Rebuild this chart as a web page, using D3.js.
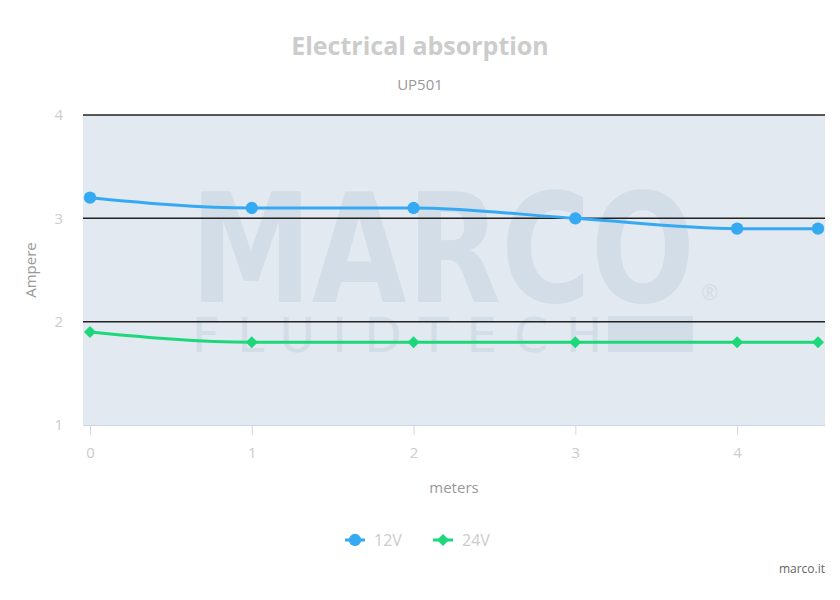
<!DOCTYPE html>
<html>
<head>
<meta charset="utf-8">
<script src="https://cdn.jsdelivr.net/npm/d3@7"></script>
<style>
  body { margin: 0; background: #fff; }
  svg { font-family: "Open Sans", "Noto Sans", sans-serif; }
</style>
</head>
<body>
<div id="chart"></div>
<script>
// chart data
let meters = [0, 1, 2, 3, 4, 4.5];
let amp12 = [3.2, 3.1, 3.1, 3.0, 2.9, 2.9];
let amp24 = [1.9, 1.8, 1.8, 1.8, 1.8, 1.8];
let xTicks = [0, 1, 2, 3, 4];
let yTicks = [1, 2, 3, 4];
let seriesNames = ["12V", "24V"];

let svgWidth = 840;
let svgHeight = 600;
let plot = { left: 83, right: 825, top: 115, bottom: 425 };

let svg = d3.select("#chart")
  .append("svg")
  .attr("width", svgWidth)
  .attr("height", svgHeight);

let x = d3.scaleLinear().domain([0, 4.5]).range([90, 818]);
let y = d3.scaleLinear().domain([1, 4]).range([plot.bottom, plot.top]);

// titles
svg.append("text")
  .attr("x", 420).attr("y", 55)
  .attr("text-anchor", "middle")
  .attr("font-size", 25).attr("font-weight", "bold")
  .attr("fill", "#cccccc")
  .text("Electrical absorption");

svg.append("text")
  .attr("x", 420).attr("y", 90)
  .attr("text-anchor", "middle")
  .attr("font-size", 15)
  .attr("fill", "#999999")
  .text("UP501");

// plot background
svg.append("rect")
  .attr("x", plot.left).attr("y", plot.top)
  .attr("width", plot.right - plot.left)
  .attr("height", plot.bottom - plot.top)
  .attr("fill", "#e3e9f0");

// watermark
let wm = svg.append("g").attr("fill", "#d3dde7");
wm.append("rect")
  .attr("x", 608).attr("y", 316).attr("width", 85).attr("height", 36);
let marco = wm.append("text")
  .attr("font-family", "DejaVu Sans").attr("font-weight", "bold")
  .attr("font-size", 152)
  .text("MARCO");
// squeeze to the logo width so the box matches what is drawn
let marcoLen = marco.node().getComputedTextLength();
marco.attr("transform", "translate(190,302) scale(" + (505 / marcoLen) + ",1)");
wm.append("text")
  .attr("x", 701).attr("y", 300)
  .attr("font-size", 21)
  .text("®");
wm.append("text")
  .attr("x", 192).attr("y", 352)
  .attr("font-family", "DejaVu Sans")
  .attr("font-size", 48)
  .attr("textLength", 410).attr("lengthAdjust", "spacing")
  .text("FLUIDTECH");

// grid lines
svg.append("g")
  .selectAll("line")
  .data(yTicks.filter(d => d > 1))
  .enter().append("line")
  .attr("x1", plot.left).attr("x2", plot.right)
  .attr("y1", d => y(d)).attr("y2", d => y(d))
  .attr("stroke", "#222").attr("stroke-width", 1.5);

// x axis
let xAxis = svg.append("g")
  .attr("transform", "translate(0," + plot.bottom + ")")
  .call(d3.axisBottom(x).tickValues(xTicks).tickSize(10).tickPadding(12).tickFormat(d3.format("d")));
xAxis.select(".domain").attr("stroke", "#ccd6eb").attr("d", "M" + plot.left + ",0.5H" + plot.right);
xAxis.selectAll(".tick line").attr("stroke", "#ccd6eb");
xAxis.selectAll(".tick text").attr("fill", "#cccccc").attr("font-size", 15)
  .attr("font-family", "Open Sans");

// y axis
let yAxis = svg.append("g")
  .attr("transform", "translate(" + plot.left + ",0)")
  .call(d3.axisLeft(y).tickValues(yTicks).tickSize(0).tickPadding(20).tickFormat(d3.format("d")));
yAxis.select(".domain").remove();
yAxis.selectAll(".tick text").attr("fill", "#cccccc").attr("font-size", 15)
  .attr("font-family", "Open Sans");

// axis titles
svg.append("text")
  .attr("x", 454).attr("y", 493)
  .attr("text-anchor", "middle")
  .attr("font-size", 15).attr("fill", "#999999")
  .text("meters");

svg.append("text")
  .attr("transform", "translate(36,270) rotate(-90)")
  .attr("text-anchor", "middle")
  .attr("font-size", 15).attr("fill", "#999999")
  .text("Ampere");

// series
let colors = ["#35aaf3", "#1dd87a"];
let series = [amp12, amp24];
let line = d3.line()
  .x((d, i) => x(meters[i]))
  .y(d => y(d))
  .curve(d3.curveMonotoneX);

series.forEach(function(vals, s) {
  svg.append("path")
    .datum(vals)
    .attr("d", line)
    .attr("fill", "none")
    .attr("stroke", colors[s])
    .attr("stroke-width", 3);
});

let circleSym = d3.symbol().type(d3.symbolCircle).size(120);
let squareSym = d3.symbol().type(d3.symbolSquare).size(72);
let symbols = [circleSym, squareSym];
let rotations = [0, 45];

series.forEach(function(vals, s) {
  svg.append("g")
    .selectAll("path")
    .data(vals)
    .enter().append("path")
    .attr("transform", (d, i) => "translate(" + x(meters[i]) + "," + y(d) + ") rotate(" + rotations[s] + ")")
    .attr("d", symbols[s]())
    .attr("fill", colors[s]);
});

// legend
let legendX = [345, 433];
seriesNames.forEach(function(name, s) {
  let g = svg.append("g").attr("transform", "translate(" + legendX[s] + ",540)");
  g.append("line")
    .attr("x1", 0).attr("x2", 20).attr("y1", 0).attr("y2", 0)
    .attr("stroke", colors[s]).attr("stroke-width", 3);
  g.append("path")
    .attr("transform", "translate(10,0) rotate(" + rotations[s] + ")")
    .attr("d", symbols[s]())
    .attr("fill", colors[s]);
  g.append("text")
    .attr("x", 29).attr("y", 6)
    .attr("font-size", 16).attr("fill", "#cccccc")
    .text(name);
});

// credits
svg.append("text")
  .attr("x", 825).attr("y", 573)
  .attr("text-anchor", "end")
  .attr("font-size", 12).attr("fill", "#666666")
  .text("marco.it");
</script>
</body>
</html>
